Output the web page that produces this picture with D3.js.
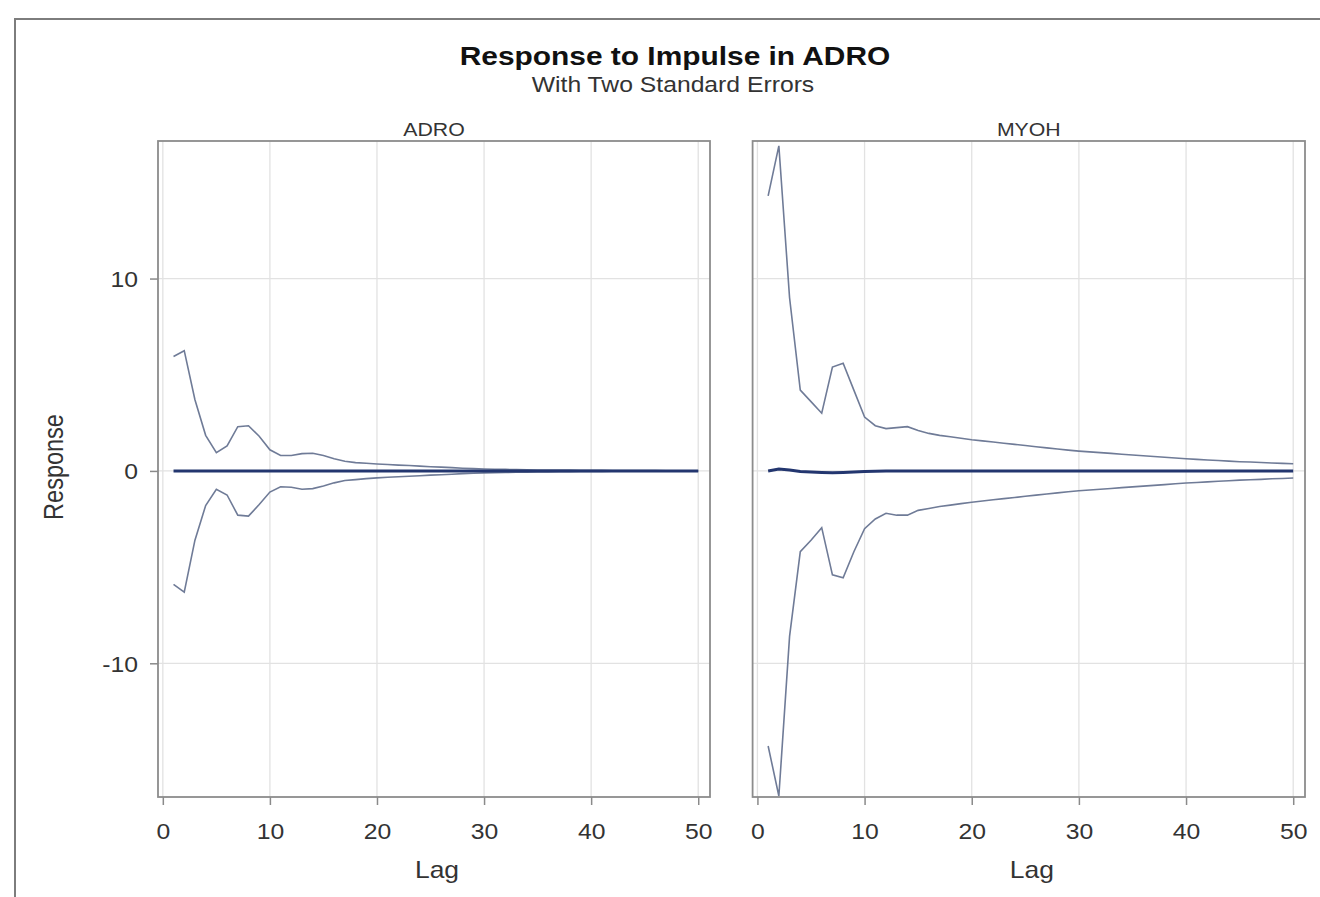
<!DOCTYPE html>
<html>
<head>
<meta charset="utf-8">
<script src="https://cdn.jsdelivr.net/npm/d3@7"></script>
<style>
  body { margin: 0; background: #fff; }
  text { font-family: "Liberation Sans", Arial, sans-serif; }
</style>
</head>
<body>
<svg id="irfViz"></svg>
<script>
// lags on x axis
var lags = [1,2,3,4,5,6,7,8,9,10,11,12,13,14,15,16,17,18,19,20,21,22,23,24,25,
            26,27,28,29,30,31,32,33,34,35,36,37,38,39,40,41,42,43,44,45,46,47,48,49,50];

// ADRO panel
var adroResp = [0,0,0,0,0,0,0,0,0,0,0,0,0,0,0,0,0,0,0,0,0,0,0,0,0,
                0,0,0,0,0,0,0,0,0,0,0,0,0,0,0,0,0,0,0,0,0,0,0,0,0];
var adroUpper = [5.95,6.25,3.7,1.85,0.95,1.3,2.3,2.35,1.8,1.1,0.8,0.8,0.9,0.92,0.8,0.63,0.5,0.43,0.4,0.36,
                 0.33,0.3,0.28,0.25,0.22,0.2,0.17,0.14,0.12,0.1,0.09,0.08,0.07,0.06,0.05,0.05,0.04,0.04,0.03,0.03,
                 0.03,0.02,0.02,0.02,0.02,0.02,0.01,0.01,0.01,0.01];
var adroLower = [-5.9,-6.3,-3.6,-1.8,-0.95,-1.25,-2.3,-2.35,-1.75,-1.1,-0.82,-0.85,-0.95,-0.92,-0.78,-0.62,-0.5,-0.45,-0.4,-0.36,
                 -0.33,-0.3,-0.28,-0.25,-0.22,-0.2,-0.17,-0.14,-0.12,-0.1,-0.09,-0.08,-0.07,-0.06,-0.05,-0.05,-0.04,-0.04,-0.03,-0.03,
                 -0.03,-0.02,-0.02,-0.02,-0.02,-0.02,-0.01,-0.01,-0.01,-0.01];

// MYOH panel
var myohResp = [0,0.1,0.05,-0.03,-0.06,-0.08,-0.1,-0.08,-0.05,-0.03,-0.02,-0.01,0,0,0,0,0,0,0,0,0,0,0,0,0,
                0,0,0,0,0,0,0,0,0,0,0,0,0,0,0,0,0,0,0,0,0,0,0,0,0];
var myohUpper = [14.3,16.9,9.0,4.2,3.6,3.0,5.4,5.6,4.2,2.8,2.35,2.2,2.25,2.3,2.1,1.95,1.85,1.78,1.7,1.62,
                 1.56,1.5,1.44,1.38,1.32,1.26,1.2,1.14,1.08,1.03,0.99,0.95,0.91,0.87,0.83,0.79,0.75,0.71,0.67,0.63,
                 0.6,0.57,0.54,0.51,0.48,0.46,0.44,0.41,0.39,0.37];
var myohLower = [-14.3,-16.9,-8.6,-4.2,-3.6,-2.95,-5.4,-5.55,-4.2,-3.0,-2.5,-2.2,-2.3,-2.3,-2.05,-1.95,-1.85,-1.78,-1.7,-1.63,
                 -1.56,-1.5,-1.44,-1.38,-1.32,-1.26,-1.2,-1.14,-1.08,-1.03,-0.99,-0.95,-0.91,-0.87,-0.83,-0.79,-0.75,-0.71,-0.67,-0.63,
                 -0.6,-0.57,-0.54,-0.51,-0.48,-0.46,-0.44,-0.41,-0.39,-0.37];

var panelNames = ["ADRO", "MYOH"];
var xTicks = [0, 10, 20, 30, 40, 50];
var yTicks = [-10, 0, 10];

var width = 1320, height = 897;
var SX = 1.15; // the picture is stretched sideways, text too
var top_ = 141, bottom = 797;
var panelX = [[158, 710], [752.6, 1305]];

var svg = d3.select("#irfViz").attr("width", width).attr("height", height);

svg.append("rect").attr("width", width).attr("height", height).attr("fill", "#fff");
// outer frame
svg.append("rect")
    .attr("x", 15).attr("y", 19).attr("width", 1400).attr("height", 1000)
    .attr("fill", "none").attr("stroke", "#7d7d7d").attr("stroke-width", 2);

function label(x, y, str, size, opts) {
    opts = opts || {};
    var t = svg.append("text")
        .attr("transform", "translate(" + x + "," + y + ") scale(" + SX + ",1)" + (opts.rotate ? " rotate(-90)" : ""))
        .attr("text-anchor", opts.anchor || "middle")
        .style("font-size", size + "px")
        .style("fill", opts.color || "#333")
        .text(str);
    if (opts.bold) t.style("font-weight", "bold");
    return t;
}

label(675, 65, "Response to Impulse in ADRO", 26, {bold: true, color: "#111"});
label(673, 92, "With Two Standard Errors", 21.5, {color: "#333"});

var y_scale = d3.scaleLinear().domain([-16.95, 17.15]).range([bottom, top_]);

var panels = [
    {name: panelNames[0], resp: adroResp, upper: adroUpper, lower: adroLower},
    {name: panelNames[1], resp: myohResp, upper: myohUpper, lower: myohLower}
];

panels.forEach(function (p, i) {
    var x0 = panelX[i][0], x1 = panelX[i][1];
    var x_scale = d3.scaleLinear().domain([-0.45, 51.1]).range([x0, x1]);

    // grid
    svg.append("g").selectAll("line").data(xTicks).join("line")
        .attr("x1", function (d) { return x_scale(d); })
        .attr("x2", function (d) { return x_scale(d); })
        .attr("y1", top_).attr("y2", bottom)
        .attr("stroke", "#e2e2e2").attr("stroke-width", 1.3);
    svg.append("g").selectAll("line").data(yTicks).join("line")
        .attr("x1", x0).attr("x2", x1)
        .attr("y1", function (d) { return y_scale(d); })
        .attr("y2", function (d) { return y_scale(d); })
        .attr("stroke", "#e2e2e2").attr("stroke-width", 1.3);

    // x axis
    var xa = svg.append("g")
        .attr("transform", "translate(0," + bottom + ")")
        .call(d3.axisBottom(x_scale).tickValues(xTicks).tickSize(8).tickSizeOuter(0).tickFormat(String));
    xa.select(".domain").remove();
    xa.selectAll(".tick line").attr("stroke", "#8a8a8a").attr("stroke-width", 1.5);
    xa.selectAll(".tick text")
        .attr("dy", null).attr("y", 42)
        .attr("transform", "scale(" + SX + ",1)")
        .style("font-size", "21.5px").style("fill", "#333");

    // y axis only on the first panel
    if (i === 0) {
        var ya = svg.append("g")
            .attr("transform", "translate(" + x0 + ",0)")
            .call(d3.axisLeft(y_scale).tickValues(yTicks).tickSize(8).tickSizeOuter(0).tickFormat(String));
        ya.select(".domain").remove();
        ya.selectAll(".tick line").attr("stroke", "#8a8a8a").attr("stroke-width", 1.5);
        ya.selectAll(".tick text")
            .attr("x", -20 / SX).attr("dy", "0.36em")
            .attr("transform", "scale(" + SX + ",1)")
            .style("font-size", "21.5px").style("fill", "#333");
    }

    // lines
    function lineOf(vals) {
        return d3.line()
            .x(function (d, k) { return x_scale(lags[k]); })
            .y(function (d) { return y_scale(d); })(vals);
    }
    svg.append("path").attr("d", lineOf(p.upper))
        .attr("fill", "none").attr("stroke", "#6f7b97").attr("stroke-width", 1.6);
    svg.append("path").attr("d", lineOf(p.lower))
        .attr("fill", "none").attr("stroke", "#6f7b97").attr("stroke-width", 1.6);
    svg.append("path").attr("d", lineOf(p.resp))
        .attr("fill", "none").attr("stroke", "#23366f").attr("stroke-width", 3);

    // frame
    svg.append("rect")
        .attr("x", x0).attr("y", top_).attr("width", x1 - x0).attr("height", bottom - top_)
        .attr("fill", "none").attr("stroke", "#8c8c8c").attr("stroke-width", 1.8);

    label((x0 + x1) / 2, 136, p.name, 18.5, {color: "#333"});
    label((x0 + x1) / 2 + 3, 878, "Lag", 23, {color: "#333"});
});

label(63, 467, "Response", 23.5, {rotate: true, color: "#333"});
</script>
</body>
</html>
